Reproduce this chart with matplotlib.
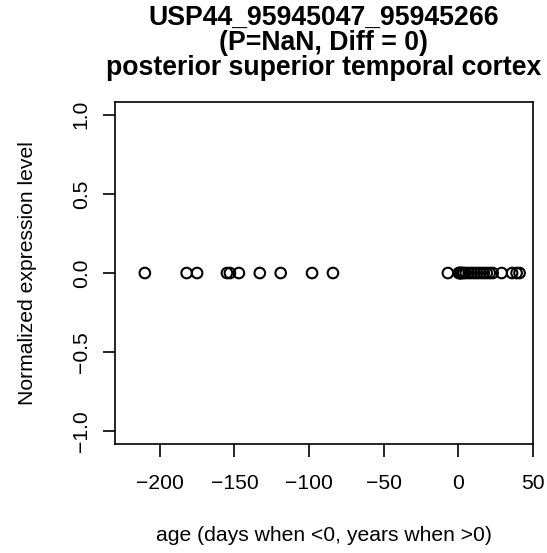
"""
Scatter of normalized expression vs age for one probe
"""

import numpy as np
from matplotlib import pyplot as plt

# ages (days when <0, years when >0)
ages = [-210, -182, -175, -155, -153, -147, -133, -119, -98, -84,
        -7, 0.3, 0.8, 1.2, 1.8, 2.5, 3.5, 5, 7, 9, 11, 13, 15, 17, 19, 21, 23,
        29, 36, 39, 41]
expr = [0.0] * len(ages)

title_lines = ['USP44_95945047_95945266', '(P=NaN, Diff = 0)',
               'posterior superior temporal cortex']
x_ticks = [-200, -150, -100, -50, 0, 50]
y_ticks = [-1.0, -0.5, 0.0, 0.5, 1.0]

plt.rcParams['font.family'] = ['Liberation Sans', 'DejaVu Sans']

fig = plt.figure(figsize=(5.47, 5.53), dpi=100)
ax = fig.add_axes([0.2102, 0.1971, 0.7642, 0.6184])

ax.scatter(ages, expr, s=58, facecolors='none', edgecolors='black',
           linewidths=1.5, zorder=3)

ax.set_xlim(-230, 50)
ax.set_ylim(-1.08, 1.08)
ax.set_xticks(x_ticks)
ax.set_xticklabels(['\u2212' + str(-t) if t < 0 else str(t) for t in x_ticks])
ax.set_yticks(y_ticks)
ax.set_yticklabels(['\u2212' + '{:.1f}'.format(-t) if t < 0 else '{:.1f}'.format(t)
                    for t in y_ticks], rotation=90, va='center')

ax.tick_params(direction='out', length=9, width=1.2, labelsize=15.2)
ax.tick_params(axis='x', pad=12.5)
ax.tick_params(axis='y', pad=8.5)
for sp in ax.spines.values():
    sp.set_linewidth(1.2)

ax.set_xlabel('age (days when <0, years when >0)', fontsize=15.2, labelpad=24)
ax.set_ylabel('Normalized expression level', fontsize=15.2, labelpad=25)

# title is centred over the plot region, three lines in one text
cx = 0.2102 + 0.7642 / 2
fig.text(cx, 1 - 5 / 553, '\n'.join(title_lines), ha='center', va='top',
         multialignment='center', linespacing=0.95,
         fontsize=19.2, fontweight='bold')

fig.savefig('out.png', dpi=100)
